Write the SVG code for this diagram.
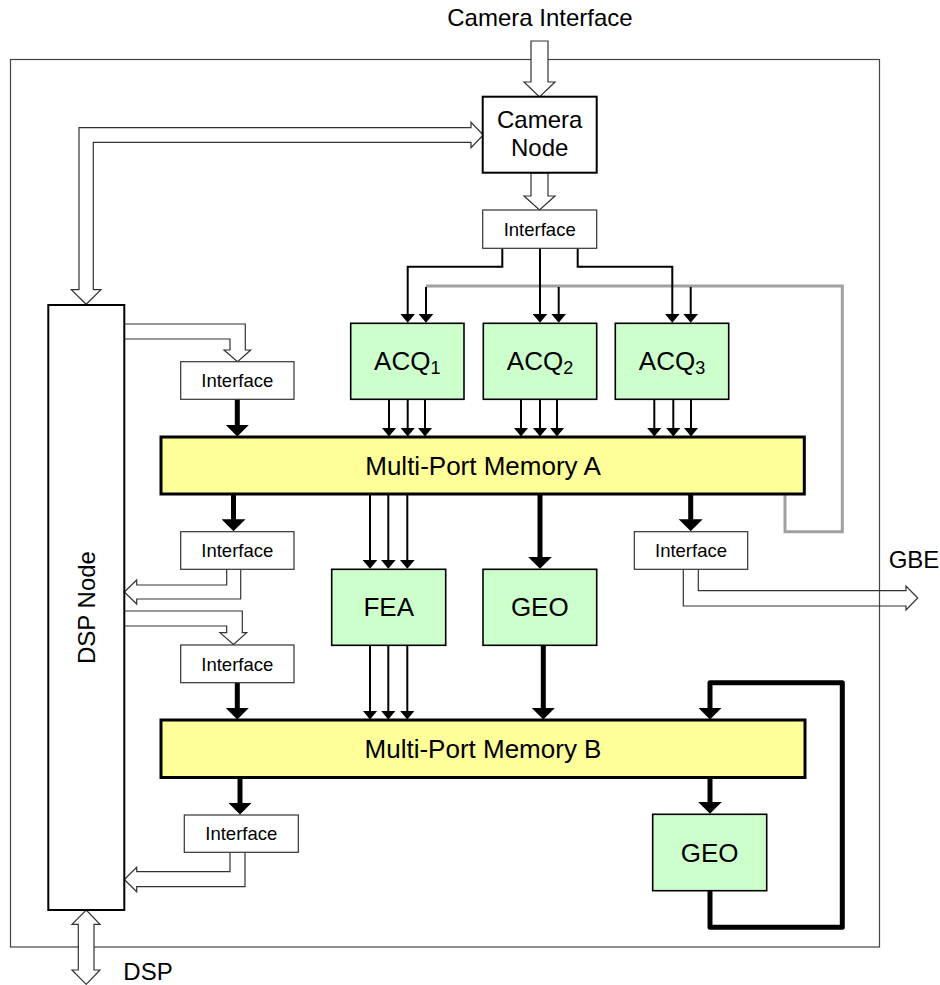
<svg xmlns="http://www.w3.org/2000/svg" width="940" height="985" viewBox="0 0 940 985">
<defs>
<style>
text{font-family:"Liberation Sans",Arial,sans-serif;fill:#000;text-anchor:middle}
.big{font-size:26px}
.mid{font-size:24px}
.if{font-size:18.5px}
.ifbox{fill:#fff;stroke:#333;stroke-width:1.2}
.node{fill:#fff;stroke:#000;stroke-width:2}
.green{fill:#ccffcc;stroke:#000;stroke-width:1.6}
.mem{fill:#ffff99;stroke:#000;stroke-width:3}
.thin{fill:none;stroke:#000;stroke-width:2;marker-end:url(#ah)}
.thick{fill:none;stroke:#000;stroke-width:5;marker-end:url(#ahT)}
.hollow{fill:#fff;stroke:#333;stroke-width:1.2;stroke-linejoin:miter}
.gray{fill:none;stroke:#a0a0a0;stroke-width:3}
</style>
<marker id="ah" markerUnits="userSpaceOnUse" markerWidth="9" markerHeight="15" viewBox="0 0 9 15" refX="0.5" refY="7.5" orient="auto"><path d="M0,0 L9,7.5 L0,15 z" fill="#000"/></marker>
<marker id="ahT" markerUnits="userSpaceOnUse" markerWidth="12" markerHeight="24" viewBox="0 0 12 24" refX="0.5" refY="12" orient="auto"><path d="M0,0 L12,12 L0,24 z" fill="#000"/></marker>
</defs>
<rect x="0" y="0" width="940" height="985" fill="#fff"/>
<rect id="frame" x="10.5" y="59.5" width="869" height="887.5" fill="none" stroke="#444" stroke-width="1.2"/>
<text class="mid" x="540" y="26">Camera Interface</text>
<text class="mid" x="148" y="980">DSP</text>
<text class="mid" x="914" y="568">GBE</text>

<g id="connectors">
<path class="gray" d="M785,494 V531.7 H842.3 V286 H426"/>
<path class="hollow" d="M531,41 H548 V82 H555 L539.5,97 L524,82 H531 Z"/>
<path class="hollow" d="M531,173 H548 V196 H555 L539.5,210 L524,196 H531 Z"/>
<path class="hollow" d="M471,127.7 H79 V289.7 H71.3 L86.2,304.3 L101,289.7 H93.3 V142.3 H471 V147.7 L483.3,135 L471,122.3 Z"/>
<path class="hollow" d="M124.3,324 H245.3 V350 H250.7 L237.5,361.7 L224,350 H230 V339 H124.3"/>
<path class="hollow" d="M226.7,569.3 V585 H136.7 V580 L124.3,592 L136.7,604 V599 H240.7 V569.3"/>
<path class="hollow" d="M124.3,611 H242.3 V632.7 H246.7 L233.5,644.5 L220,632.7 H226.7 V626 H124.3"/>
<path class="hollow" d="M230,852.3 V871.7 H136.7 V867.3 L124.3,879.5 L136.7,891.7 V886.7 H245 V852.3"/>
<path class="hollow" d="M86.2,910 L100,924.3 H94 V970 H100 L86.2,984.3 L72,970 H78.3 V924.3 H72 Z"/>
<path class="hollow" fill="none" style="fill:none" d="M698.3,569.3 V590.7 H906 V586 L917.7,598 L906,610 V606 H683.3 V569.3"/>

<path class="thin" d="M502.3,248.3 V266.7 H407.7 V314.3"/>
<path class="thin" d="M540,248.3 V314.3"/>
<path class="thin" d="M577.7,248.3 V266.7 H672.3 V314.3"/>
<path class="thin" d="M426,287 V314.3"/>
<path class="thin" d="M558.7,287 V314.3"/>
<path class="thin" d="M690.7,287 V314.3"/>

<path class="thin" d="M389,399.3 V428"/>
<path class="thin" d="M407.7,399.3 V428"/>
<path class="thin" d="M425,399.3 V428"/>
<path class="thin" d="M521,399.3 V428"/>
<path class="thin" d="M540,399.3 V428"/>
<path class="thin" d="M557,399.3 V428"/>
<path class="thin" d="M654.3,399.3 V428"/>
<path class="thin" d="M673.3,399.3 V428"/>
<path class="thin" d="M691,399.3 V428"/>

<path class="thin" d="M370,494 V560.3"/>
<path class="thin" d="M388.3,494 V560.3"/>
<path class="thin" d="M407.3,494 V560.3"/>
<path class="thin" d="M370,645.3 V711"/>
<path class="thin" d="M388.3,645.3 V711"/>
<path class="thin" d="M407.3,645.3 V711"/>

<path class="thick" d="M237.3,399.3 V425"/>
<path class="thick" d="M233.5,494 V519.7"/>
<path class="thick" d="M237.3,682.7 V708"/>
<path class="thick" d="M240,777.7 V803"/>
<path class="thick" d="M540,494 V557.3"/>
<path class="thick" d="M543.3,645.3 V708"/>
<path class="thick" d="M690.7,494 V519.7"/>
<path class="thick" d="M710,777.7 V802.3"/>
<path class="thick" style="stroke-linejoin:round" d="M710,890.7 V927.3 H842.3 V682.7 H710 V708"/>
</g>

<g id="camera-node"><rect class="node" x="482.7" y="96.7" width="114" height="76"/><text class="mid" x="539.7" y="128">Camera</text><text class="mid" x="539.7" y="156">Node</text></g>
<g id="if-top"><rect class="ifbox" x="482.7" y="210" width="114" height="38.3"/><text class="if" x="539.7" y="235.5">Interface</text></g>
<g id="dsp-node"><rect class="node" x="48.3" y="305" width="76" height="605"/><text class="mid" transform="translate(94.5,607.5) rotate(-90)">DSP Node</text></g>
<g id="if-1"><rect class="ifbox" x="180.7" y="361.7" width="113.3" height="37.6"/><text class="if" x="237.3" y="387">Interface</text></g>
<g id="if-2"><rect class="ifbox" x="180.7" y="531.7" width="113.3" height="37.6"/><text class="if" x="237.3" y="557">Interface</text></g>
<g id="if-3"><rect class="ifbox" x="180.7" y="645" width="113.3" height="37.7"/><text class="if" x="237.3" y="670.5">Interface</text></g>
<g id="if-4"><rect class="ifbox" x="184.3" y="815" width="114" height="37.3"/><text class="if" x="241.3" y="840.3">Interface</text></g>
<g id="if-5"><rect class="ifbox" x="634.3" y="531.7" width="113.4" height="37.6"/><text class="if" x="691" y="557">Interface</text></g>
<g id="acq1"><rect class="green" x="350.7" y="323.3" width="113.3" height="76"/><text class="big" x="407.3" y="370">ACQ<tspan font-size="18" dy="4">1</tspan></text></g>
<g id="acq2"><rect class="green" x="483.3" y="323.3" width="113.4" height="76"/><text class="big" x="540" y="370">ACQ<tspan font-size="18" dy="4">2</tspan></text></g>
<g id="acq3"><rect class="green" x="615.3" y="323.3" width="113.4" height="76"/><text class="big" x="672" y="370">ACQ<tspan font-size="18" dy="4">3</tspan></text></g>
<g id="mem-a"><rect class="mem" x="161" y="437" width="643.3" height="57"/><text class="big" x="483" y="474.5">Multi-Port Memory A</text></g>
<g id="fea"><rect class="green" x="331.7" y="569.3" width="114" height="76"/><text class="big" x="388.7" y="616">FEA</text></g>
<g id="geo1"><rect class="green" x="483" y="569.3" width="113.7" height="76"/><text class="big" x="539.8" y="616">GEO</text></g>
<g id="mem-b"><rect class="mem" x="161" y="720" width="644" height="57.5"/><text class="big" x="483" y="757.5">Multi-Port Memory B</text></g>
<g id="geo2"><rect class="green" x="652.7" y="814.3" width="114" height="76.4"/><text class="big" x="709.7" y="861.5">GEO</text></g>
</svg>
